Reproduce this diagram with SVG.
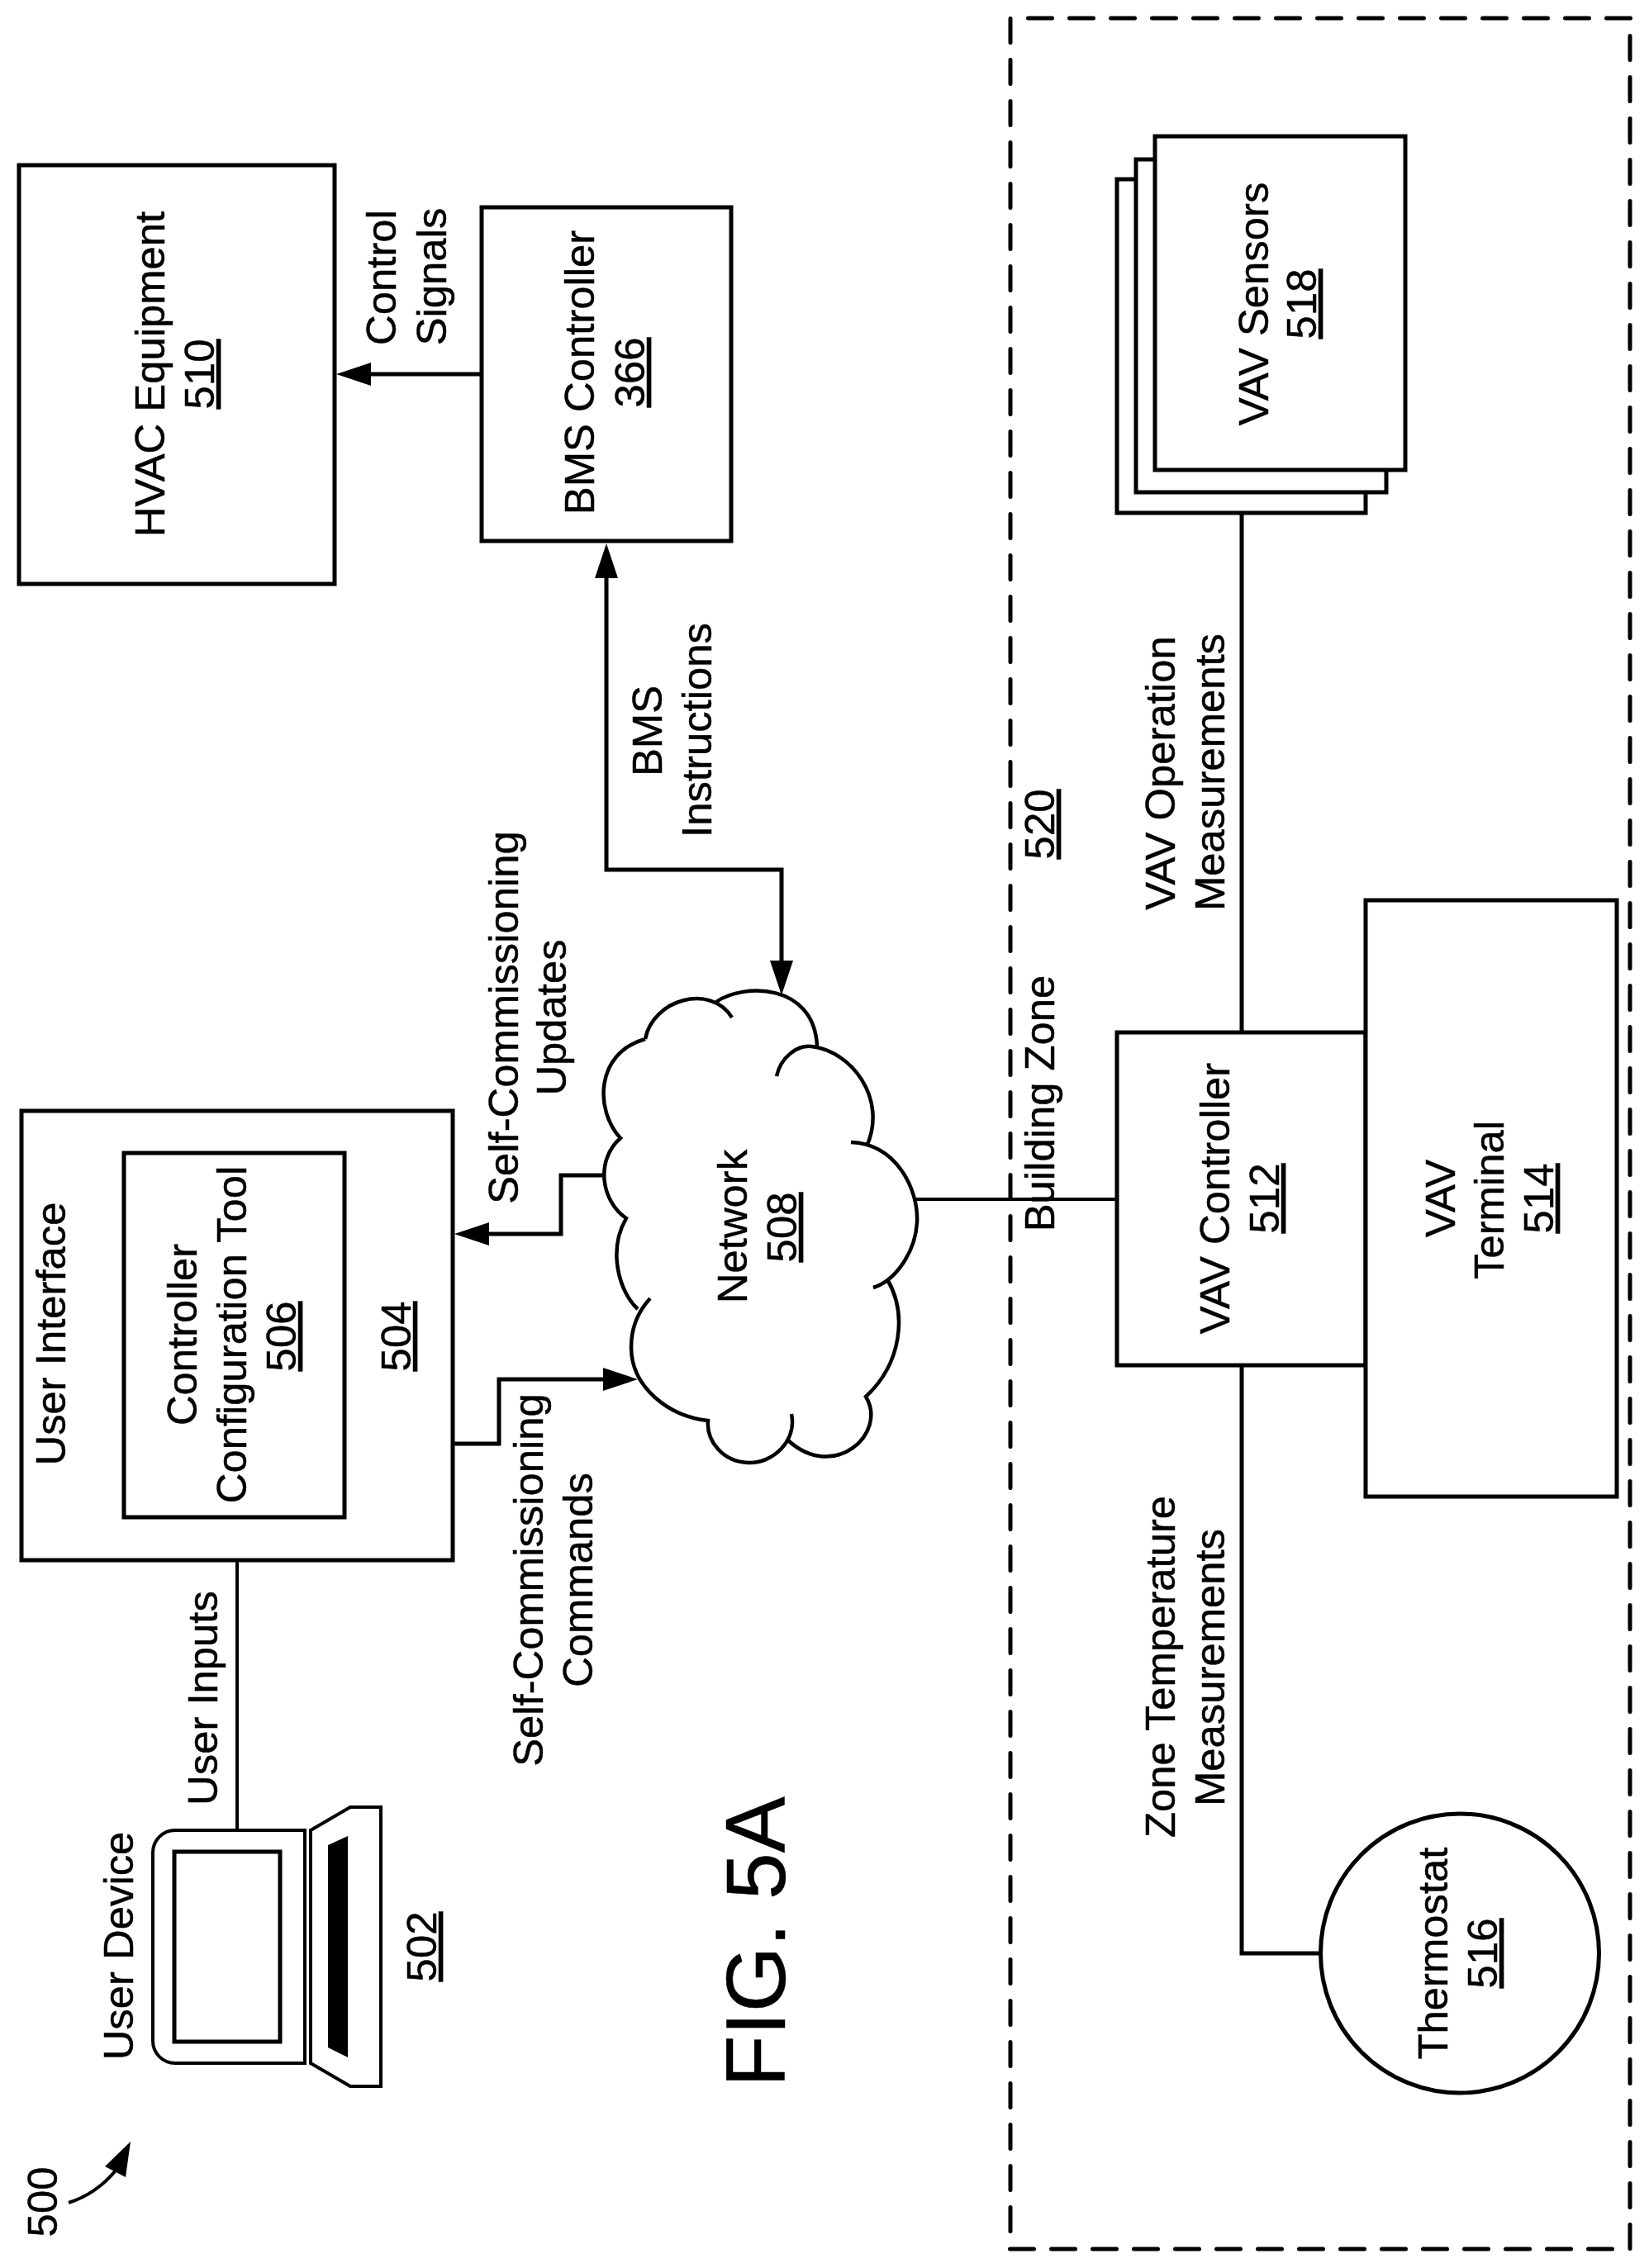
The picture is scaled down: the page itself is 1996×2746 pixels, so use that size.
<svg xmlns="http://www.w3.org/2000/svg" width="1996" height="2746" viewBox="0 0 1996 2746">
<defs>
<style>
.t{font-family:"Liberation Sans",Arial,sans-serif;font-size:50.8px;text-anchor:middle;fill:#000;stroke:#000;stroke-width:.5}
.u{text-decoration:underline}
.b{fill:#fff;stroke:#000;stroke-width:5;stroke-linejoin:miter}
.c{fill:none;stroke:#000;stroke-width:5;stroke-linejoin:miter}
.thin{fill:none;stroke:#000;stroke-width:4}
.arrow{marker-end:url(#head)}
</style>
<marker id="head" viewBox="0 0 42 28" refX="1" refY="14" markerWidth="42" markerHeight="28" markerUnits="userSpaceOnUse" orient="auto-start-reverse"><path d="M0 0L42 14L0 28Z" fill="#000"/></marker>
</defs>
<rect width="1996" height="2746" fill="#fff"/>

<g id="zone-520">
<path d="M1244.5 22H1976M1973 43.5V2724M1223 22.5V2703M1222.5 2723H1953" fill="none" stroke="#000" stroke-width="5" stroke-linecap="round" stroke-dasharray="29 21"/>
<text class="t" transform="translate(1276 1336) rotate(-90)">Building Zone</text>
<text class="t u" transform="translate(1276 998) rotate(-90)">520</text>
</g>

<g id="connectors">
<path class="thin" d="M287 1888V2216"/>
<path class="c arrow" d="M729 1423H679V1494H591"/>
<path class="c arrow" d="M548 1748H604V1670H731"/>
<path class="c arrow" d="M583 453H448"/>
<path class="c arrow" d="M734 699V1053H946V1164" style="marker-start:url(#head)"/>
<path class="thin" d="M1109 1452H1352"/>
<path class="c" d="M1503 621V1250"/>
<path class="c" d="M1503 1653V2365H1598"/>
</g>

<g id="ref-500">
<text class="t" transform="translate(69 2666) rotate(-90)">500</text>
<path d="M83 2667C105 2660 125 2646 140 2628" fill="none" stroke="#000" stroke-width="4"/>
<path d="M158 2593L127 2623L152 2636Z" fill="#000"/>
</g>

<g id="user-device-502">
<path class="b" d="M369 2216H212A27 27 0 0 0 185 2243V2471A27 27 0 0 0 212 2498H369Z" style="stroke-width:4"/>
<rect class="b" x="211" y="2242" width="128" height="230"/>
<path class="b" d="M376 2216L424 2188H461V2526H424L376 2498Z" style="stroke-width:4"/>
<path d="M397 2234L421 2223V2491L397 2479Z" fill="#000"/>
<text class="t" transform="translate(161 2356) rotate(-90)">User Device</text>
<text class="t u" transform="translate(528 2357) rotate(-90)">502</text>
</g>

<g id="user-interface-504">
<rect class="b" x="26" y="1345" width="522" height="544"/>
<text class="t" transform="translate(79 1615) rotate(-90)">User Interface</text>
<text class="t u" transform="translate(497 1618) rotate(-90)">504</text>
</g>

<g id="config-tool-506">
<rect class="b" x="150" y="1396" width="267" height="441"/>
<text class="t" transform="translate(238 1616) rotate(-90)">Controller</text>
<text class="t" transform="translate(298 1616) rotate(-90)">Configuration Tool</text>
<text class="t u" transform="translate(358 1618) rotate(-90)">506</text>
</g>

<g id="network-508">
<path d="M781 1258C790 1210 860 1190 886 1232M867 1213C900 1190 985 1190 989 1266M940 1303C945 1280 965 1265 982 1267C1030 1272 1075 1330 1049 1388M1030 1383C1085 1385 1112 1440 1110 1480C1108 1515 1085 1550 1057 1559M1074 1549C1098 1590 1092 1650 1048 1691C1075 1735 1010 1795 954 1744M958 1712C965 1745 935 1772 906 1771C875 1770 855 1745 857 1720C810 1715 764 1680 764 1631C764 1605 775 1585 787 1572M772 1585C750 1565 735 1515 758 1475C728 1455 720 1405 751 1378C720 1345 720 1275 781 1258" fill="none" stroke="#000" stroke-width="4.5"/>
<text class="t" transform="translate(904 1485) rotate(-90)">Network</text>
<text class="t u" transform="translate(964 1486) rotate(-90)">508</text>
</g>

<g id="hvac-510">
<rect class="b" x="23" y="200" width="382" height="507"/>
<text class="t" transform="translate(199 453) rotate(-90)">HVAC Equipment</text>
<text class="t u" transform="translate(259 453) rotate(-90)">510</text>
</g>

<g id="bms-366">
<rect class="b" x="583" y="251" width="302" height="404"/>
<text class="t" transform="translate(719 451) rotate(-90)">BMS Controller</text>
<text class="t u" transform="translate(780 451) rotate(-90)">366</text>
</g>

<g id="vav-controller-512">
<rect class="b" x="1352" y="1250" width="301" height="403"/>
<text class="t" transform="translate(1488 1451) rotate(-90)">VAV Controller</text>
<text class="t u" transform="translate(1548 1451) rotate(-90)">512</text>
</g>

<g id="vav-terminal-514">
<rect class="b" x="1653" y="1090" width="304" height="722"/>
<text class="t" transform="translate(1761 1451) rotate(-90)">VAV</text>
<text class="t" transform="translate(1820 1453) rotate(-90)">Terminal</text>
<text class="t u" transform="translate(1880 1451) rotate(-90)">514</text>
</g>

<g id="thermostat-516">
<ellipse class="b" cx="1767" cy="2365" rx="168.5" ry="169"/>
<text class="t" transform="translate(1752 2365) rotate(-90)">Thermostat</text>
<text class="t u" transform="translate(1812 2365) rotate(-90)">516</text>
</g>

<g id="vav-sensors-518">
<rect class="b" x="1352" y="217" width="301" height="404"/>
<rect class="b" x="1375" y="193" width="303" height="403"/>
<rect class="b" x="1398" y="165" width="303" height="404"/>
<text class="t" transform="translate(1535 368) rotate(-90)">VAV Sensors</text>
<text class="t u" transform="translate(1593 368) rotate(-90)">518</text>
</g>

<g id="labels">
<text class="t" transform="translate(263 2056) rotate(-90)">User Inputs</text>
<text class="t" transform="translate(627 1232) rotate(-90)">Self-Commissioning</text>
<text class="t" transform="translate(685 1232) rotate(-90)">Updates</text>
<text class="t" transform="translate(657 1913) rotate(-90)">Self-Commissioning</text>
<text class="t" transform="translate(717 1913) rotate(-90)">Commands</text>
<text class="t" transform="translate(479 336) rotate(-90)">Control</text>
<text class="t" transform="translate(540 335) rotate(-90)">Signals</text>
<text class="t" transform="translate(801 885) rotate(-90)">BMS</text>
<text class="t" transform="translate(861 884) rotate(-90)">Instructions</text>
<text class="t" transform="translate(1422 936) rotate(-90)">VAV Operation</text>
<text class="t" transform="translate(1482 935) rotate(-90)">Measurements</text>
<text class="t" transform="translate(1422 2018) rotate(-90)">Zone Temperature</text>
<text class="t" transform="translate(1482 2019) rotate(-90)">Measurements</text>
<text class="t" style="font-size:102px" transform="translate(950 2351) rotate(-90)">FIG. 5A</text>
</g>
</svg>
